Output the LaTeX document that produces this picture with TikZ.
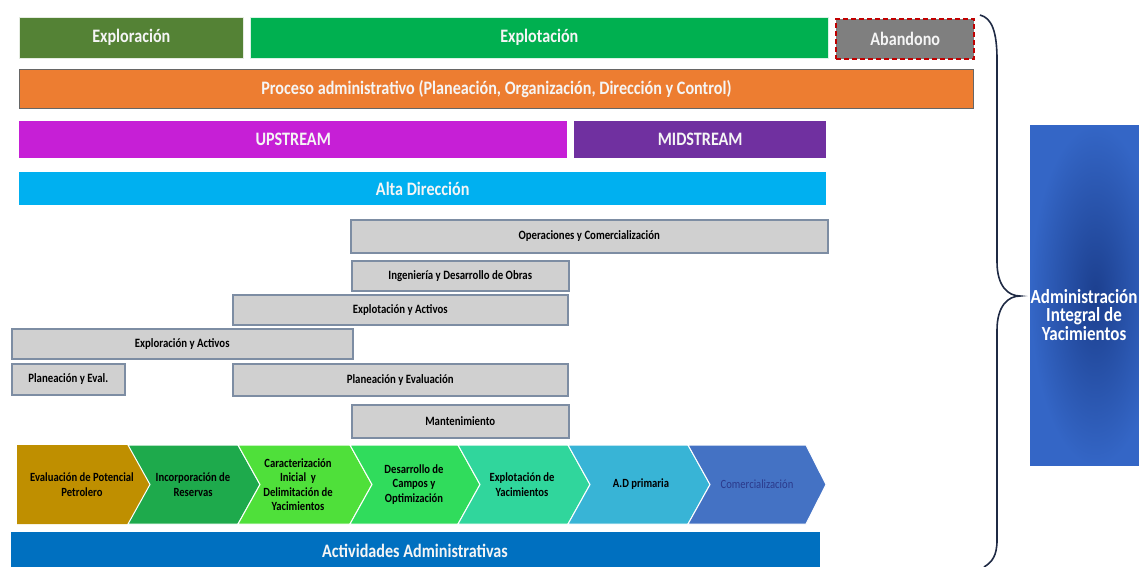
\documentclass[tikz,border=0pt]{standalone}
\usepackage{fontspec}
\setmainfont[FakeStretch=0.85]{Carlito}
\definecolor{cExplo}{HTML}{548235}
\definecolor{cExplot}{HTML}{00B050}
\definecolor{cAband}{HTML}{7F7F7F}
\definecolor{cRed}{HTML}{C00000}
\definecolor{cOrange}{HTML}{ED7D31}
\definecolor{cUp}{HTML}{C61FD6}
\definecolor{cMid}{HTML}{7030A0}
\definecolor{cAlta}{HTML}{00B0F0}
\definecolor{cGray}{HTML}{D0D0D0}
\definecolor{cGrayB}{HTML}{7D8DA3}
\definecolor{cAct}{HTML}{0070C0}
\definecolor{cCh1}{HTML}{BF8F00}
\definecolor{cCh2}{HTML}{1EAA4C}
\definecolor{cCh3}{HTML}{4FE03A}
\definecolor{cCh4}{HTML}{30DC5C}
\definecolor{cCh5}{HTML}{30D69C}
\definecolor{cCh6}{HTML}{38B4D6}
\definecolor{cCh7}{HTML}{4472C4}
\definecolor{cComTxt}{HTML}{2B3A8C}
\definecolor{cBrace}{HTML}{1F2A44}
\definecolor{cAdmOut}{HTML}{3466C6}
\definecolor{cAdmIn}{HTML}{1C3F8E}
\begin{document}
\begin{tikzpicture}[x=1pt,y=-1pt,
  bigbox/.style={anchor=north west, inner sep=0pt, text=white!96!black,
    font=\fontsize{19}{21}\selectfont\bfseries},
  graybox/.style={anchor=north west, inner sep=0pt, fill=cGray, draw=cGrayB,
    line width=1.5pt, text=black, font=\fontsize{12.7}{14}\selectfont\bfseries},
  chev/.style={draw=white, line width=1pt},
  chevtxt/.style={align=center, text=black, inner sep=0pt,
    font=\fontsize{12.5}{14.5}\selectfont\bfseries},
  bracestyle/.style={draw=cBrace, line width=1.6pt}
]
\useasboundingbox (0,0) rectangle (1139,566);
\clip (0,0) rectangle (1139,566);

% top row
\node[bigbox, fill=cExplo, draw=white!85!cExplo, line width=0.6pt, minimum width=224pt, minimum height=41pt] (explo) at (19,17) {Exploración};
\node[bigbox, fill=cExplot, draw=white!85!cExplot, line width=0.6pt, minimum width=578pt, minimum height=41pt] (explot) at (250,17) {Explotación};
\node[bigbox, fill=cAband, draw=cRed, dashed, dash pattern=on 5pt off 3pt, line width=2.4pt, minimum width=138pt, minimum height=40pt] (aband) at (835,18) {Abandono};

% orange
\node[bigbox, fill=cOrange, draw=black!60, line width=0.8pt, minimum width=954pt, minimum height=39pt] (proc) at (19,69) {Proceso administrativo (Planeación, Organización, Dirección y Control)};

% upstream / midstream
\node[bigbox, fill=cUp, minimum width=548pt, minimum height=37pt] (up) at (19,121) {UPSTREAM};
\node[bigbox, fill=cMid, minimum width=252pt, minimum height=37pt] (mid) at (574,121) {MIDSTREAM};

% alta direccion
\node[bigbox, fill=cAlta, minimum width=807pt, minimum height=33pt] (alta) at (19,172) {Alta Dirección};

% gray boxes
\node[graybox, minimum width=477pt, minimum height=33pt] (opc) at (350,219) {Operaciones y Comercialización};
\node[graybox, minimum width=217pt, minimum height=30pt] (ing) at (351,260) {Ingeniería y Desarrollo de Obras};
\node[graybox, minimum width=335pt, minimum height=30pt] (exa) at (232,294) {Explotación y Activos};
\node[graybox, minimum width=341pt, minimum height=30pt] (exr) at (11,328) {Exploración y Activos};
\node[graybox, minimum width=113pt, minimum height=31pt] (pye) at (11,363) {Planeación y Eval.};
\node[graybox, minimum width=335pt, minimum height=32pt] (pyev) at (232,363) {Planeación y Evaluación};
\node[graybox, minimum width=217pt, minimum height=33pt] (mant) at (351,404) {Mantenimiento};

% chevrons
\def\ct{445}\def\cb{524}\def\cm{484.5}\def\d{22}
\fill[cCh1] (17,\ct) -- (128,\ct) -- (128+\d,\cm) -- (128,\cb) -- (17,\cb) -- cycle;
\filldraw[chev, fill=cCh2] (128,\ct) -- (238,\ct) -- (238+\d,\cm) -- (238,\cb) -- (128,\cb) -- (128+\d,\cm) -- cycle;
\filldraw[chev, fill=cCh3] (238,\ct) -- (350,\ct) -- (350+\d,\cm) -- (350,\cb) -- (238,\cb) -- (238+\d,\cm) -- cycle;
\filldraw[chev, fill=cCh4] (350,\ct) -- (458,\ct) -- (458+\d,\cm) -- (458,\cb) -- (350,\cb) -- (350+\d,\cm) -- cycle;
\filldraw[chev, fill=cCh5] (458,\ct) -- (568,\ct) -- (568+\d,\cm) -- (568,\cb) -- (458,\cb) -- (458+\d,\cm) -- cycle;
\filldraw[chev, fill=cCh6] (568,\ct) -- (688,\ct) -- (688+\d,\cm) -- (688,\cb) -- (568,\cb) -- (568+\d,\cm) -- cycle;
\filldraw[chev, fill=cCh7] (688,\ct) -- (806,\ct) -- (826,\cm) -- (806,\cb) -- (688,\cb) -- (688+\d,\cm) -- cycle;

\node[chevtxt] (c1) at (82,\cm) {Evaluación de Potencial\\Petrolero};
\node[chevtxt] (c2) at (193,\cm) {Incorporación de\\Reservas};
\node[chevtxt] (c3) at (298,\cm) {Caracterización\\Inicial \ y\\Delimitación de\\Yacimientos};
\node[chevtxt] (c4) at (414,\cm) {Desarrollo de\\Campos y\\Optimización};
\node[chevtxt] (c5) at (522,\cm) {Explotación de\\Yacimientos};
\node[chevtxt] (c6) at (641,\cm) {A.D primaria};
\node[chevtxt, text=cComTxt, font=\fontsize{12.5}{14.5}\selectfont] (c7) at (757,\cm) {Comercialización};

% actividades administrativas
\node[bigbox, fill=cAct, minimum width=809pt, minimum height=40pt] (act) at (11,532) {};
\node[text=white!96!black, font=\fontsize{19}{21}\selectfont\bfseries, inner sep=0pt] (acttxt) at (415,551) {Actividades Administrativas};

% brace
\draw[bracestyle] (980,15) .. controls (992,18) and (997,32) .. (997,60) -- (997,262)
  .. controls (997,286) and (1008,296) .. (1020,296)
  .. controls (1008,296) and (997,306) .. (997,330) -- (997,540)
  .. controls (997,556) and (992,562) .. (984,567);

% right blue box
\node[anchor=north west, inner sep=0pt, minimum width=130pt, minimum height=340pt,
  inner color=cAdmIn, outer color=cAdmOut] (adm) at (1030,125) {};
\node[align=center, text=white, inner sep=0pt, font=\fontsize{20}{18.5}\selectfont\bfseries] (admtxt) at (1084,315) {Administración\\Integral de\\Yacimientos};
\end{tikzpicture}
\end{document}
